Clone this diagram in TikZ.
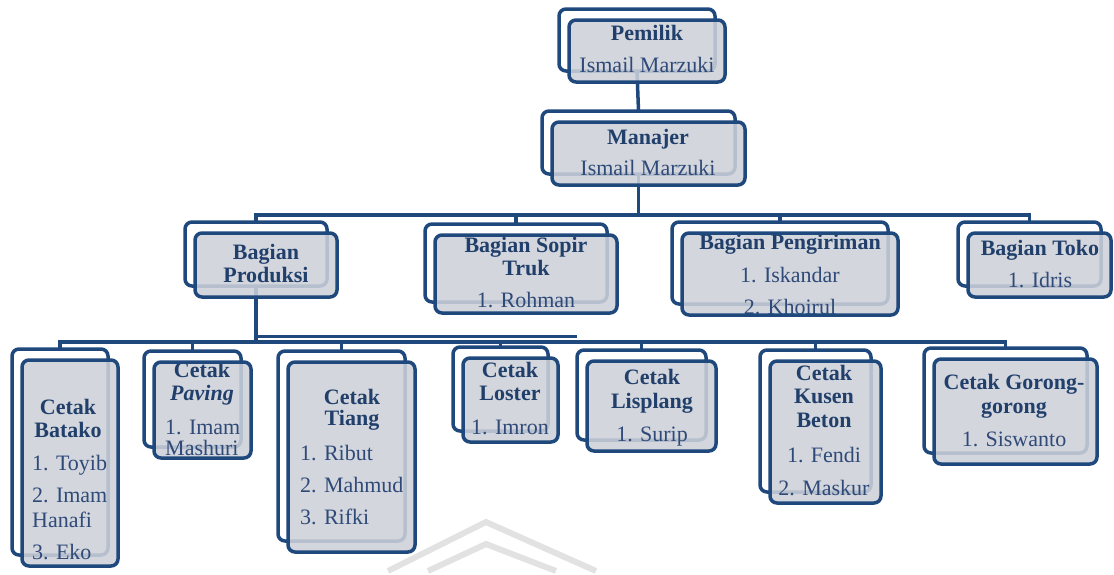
\documentclass[tikz,border=0pt]{standalone}
\usepackage{fontspec}
\setmainfont{Liberation Serif}
\newfontfamily\orgfont{Liberation Serif}
\usetikzlibrary{calc}
\definecolor{bord}{HTML}{1F497D}
\definecolor{boxfill}{HTML}{CDD1D9}
\definecolor{ttlc}{HTML}{213F6B}
\definecolor{txtc}{HTML}{2F4A78}
\definecolor{wm}{HTML}{E2E2E2}
\pgfdeclarelayer{bg}
\pgfsetlayers{bg,main}
% front box given by its corners x1 y1 x2 y2 (y downward); back box offset (-10,-11)
\newcommand\obox[5]{%
  \node[backbox, minimum width={#4-#2}, minimum height={#5-#3}] (#1-b) at ({(#2+#4)/2-10},{(#3+#5)/2-11}) {};
  \node[frontbox, minimum width={#4-#2}, minimum height={#5-#3}] (#1) at ({(#2+#4)/2},{(#3+#5)/2}) {};}
\newcommand\tline[5]{\node[#1] (#2) at (#3,{#4+7}) {#5};}
\newcommand\boxedge[1]{\draw[frontedge] (#1.south west) rectangle (#1.north east);}
\begin{document}
\begin{tikzpicture}[x=1pt,y=-1pt,
  backbox/.style={draw=bord, line width=3.5pt, fill=white, rounded corners=7pt, inner sep=0pt, outer sep=0pt},
  frontbox/.style={fill=boxfill, fill opacity=0.87, rounded corners=7pt, inner sep=0pt, outer sep=0pt},
  frontedge/.style={draw=bord, line width=3.5pt, rounded corners=7pt},
  conn/.style={draw=bord, line width=3.5pt},
  ttl/.style={font=\orgfont\fontsize{22}{24}\selectfont\bfseries, text=ttlc, inner sep=0pt, anchor=base},
  itm/.style={font=\orgfont\fontsize{22}{24}\selectfont, text=txtc, inner sep=0pt, anchor=base},
  itml/.style={itm, anchor=base west},
  wmark/.style={draw=wm, line width=6pt, line join=miter},
]
\begin{pgfonlayer}{bg}
  \fill[white] (0,0) rectangle (1114,569);
  \draw[wmark] (388,571) -- (486,522) -- (596,571);
  \draw[wmark] (428,571) -- (486,544) -- (556,571);
\end{pgfonlayer}
\useasboundingbox (0,0) rectangle (1114,569);

% boxes
\obox{pem}{569}{20}{725}{82}
\obox{man}{552}{122}{745}{185}
\obox{prod}{195}{233}{337}{297}
\obox{sopir}{435}{235}{617}{313}
\obox{kirim}{682}{233}{898}{315}
\obox{toko}{968}{233}{1111}{297}
\obox{batako}{22}{360}{118}{566}
\obox{paving}{154}{362}{251}{458}
\obox{tiang}{288}{362}{415}{552}
\obox{loster}{463}{358}{558}{442}
\obox{lisplang}{587}{361}{716}{451}
\obox{kusen}{770}{361}{881}{503}
\obox{gorong}{934}{359}{1097}{464}

% texts
\tline{ttl}{t1}{647}{33}{Pemilik}
\tline{itm}{t2}{647}{65}{Ismail Marzuki}
\tline{ttl}{t3}{648}{137}{Manajer}
\tline{itm}{t4}{648}{168}{Ismail Marzuki}
\tline{ttl}{t5}{266}{252}{Bagian}
\tline{ttl}{t6}{266}{275}{Produksi}
\tline{ttl}{t7}{526}{245}{Bagian Sopir}
\tline{ttl}{t8}{526}{268}{Truk}
\tline{itm}{t9}{526}{300}{1. Rohman}
\tline{ttl}{t10}{790}{242}{Bagian Pengiriman}
\tline{itm}{t11}{790}{275}{1. Iskandar}
\tline{itm}{t12}{790}{307}{2. Khoirul}
\tline{ttl}{t13}{1040}{248}{Bagian Toko}
\tline{itm}{t14}{1040}{280}{1. Idris}
\tline{ttl}{t15}{68}{407}{Cetak}
\tline{ttl}{t16}{68}{430}{Batako}
\tline{itml}{t17}{32}{463}{1. Toyib}
\tline{itml}{t18}{32}{495}{2. Imam}
\tline{itml}{t19}{32}{520}{Hanafi}
\tline{itml}{t20}{32}{552}{3. Eko}
\tline{ttl}{t21}{202}{370}{Cetak}
\tline{ttl}{t22}{202}{393}{\itshape Paving}
\tline{itml}{t23}{165}{427}{1. Imam}
\tline{itml}{t24}{165}{448}{Mashuri}
\tline{ttl}{t25}{352}{397}{Cetak}
\tline{ttl}{t26}{352}{418}{Tiang}
\tline{itml}{t27}{300}{453}{1. Ribut}
\tline{itml}{t28}{300}{485}{2. Mahmud}
\tline{itml}{t29}{300}{517}{3. Rifki}
\tline{ttl}{t30}{510}{370}{Cetak}
\tline{ttl}{t31}{510}{393}{Loster}
\tline{itm}{t32}{510}{427}{1. Imron}
\tline{ttl}{t33}{652}{377}{Cetak}
\tline{ttl}{t34}{652}{401}{Lisplang}
\tline{itm}{t35}{652}{434}{1. Surip}
\tline{ttl}{t36}{824}{373}{Cetak}
\tline{ttl}{t37}{824}{396}{Kusen}
\tline{ttl}{t38}{824}{420}{Beton}
\tline{itm}{t39}{824}{455}{1. Fendi}
\tline{itm}{t40}{824}{488}{2. Maskur}
\tline{ttl}{t41}{1014}{382}{Cetak Gorong-}
\tline{ttl}{t42}{1014}{406}{gorong}
\tline{itm}{t43}{1014}{439}{1. Siswanto}

% front borders drawn over the texts
\foreach \b in {pem,man,prod,sopir,kirim,toko,batako,paving,tiang,loster,lisplang,kusen,gorong}{\boxedge{\b}}

% connectors
\begin{pgfonlayer}{bg}
  \draw[conn] (pem-b.south) -- (man-b.north);
  \coordinate (bus1) at ([yshift=-41pt]man-b.south);
  \draw[conn] (man-b.south) -- (bus1);
  \foreach \c in {prod,sopir,kirim,toko}{\draw[conn] (bus1) -| (\c-b.north);}
  \coordinate (bus2) at ([yshift=-56pt]prod-b.south);
  \coordinate (bus2b) at ([yshift=-50pt]prod-b.south);
  \draw[conn] (prod-b.south) -- (bus2);
  \foreach \c in {batako,paving,tiang,loster,lisplang,kusen,gorong}{\draw[conn] (bus2) -| (\c-b.north);}
  \draw[conn, line width=3pt] (bus2b) -- (bus2b -| lisplang-b.west);
\end{pgfonlayer}
\end{tikzpicture}
\end{document}
